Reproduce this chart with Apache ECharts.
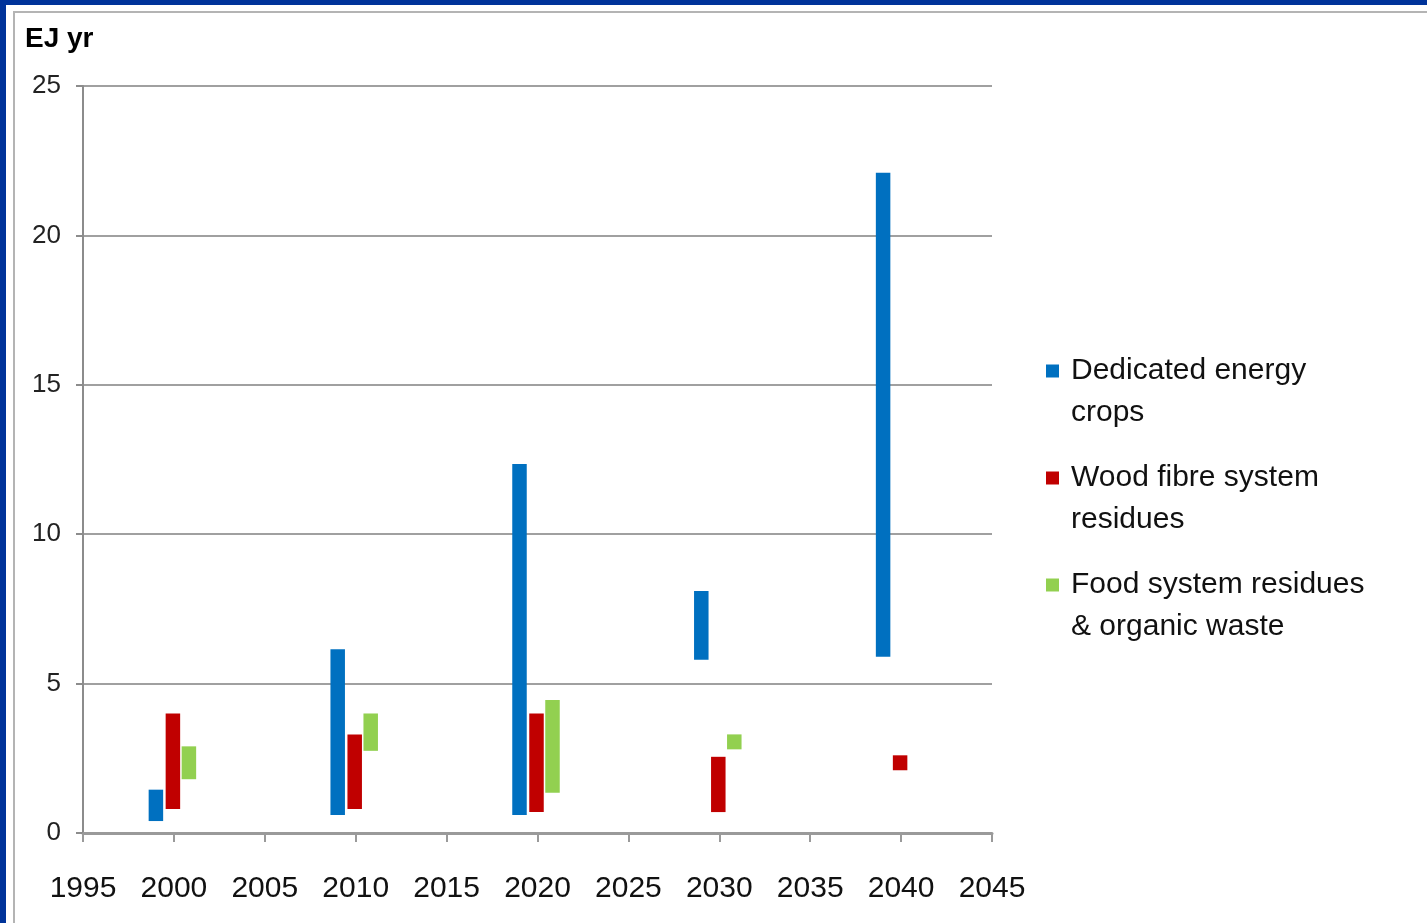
<!DOCTYPE html>
<html>
<head>
<meta charset="utf-8">
<script src="https://cdn.jsdelivr.net/npm/echarts@6/dist/echarts.min.js"></script>
<style>
  html, body { margin: 0; padding: 0; width: 1427px; height: 923px; overflow: hidden; background: #00339a; }
  #sheet { position: absolute; left: 6px; top: 5px; right: 0; bottom: 0; background: #fff; }
  #edge { position: absolute; left: 13px; top: 11px; right: -4px; bottom: -4px; border-left: 2px solid #b4b4b4; border-top: 2px solid #b4b4b4; }
  #chart { position: absolute; left: 0; top: 0; width: 1427px; height: 923px; }
</style>
</head>
<body>
<div id="sheet"></div>
<div id="edge"></div>
<div id="chart"></div>
<script>
// Bioenergy supply ranges (EJ per year), low and high estimate per source
const years = [2000, 2010, 2020, 2030, 2040];
const seriesNames = [
  'Dedicated energy\ncrops',
  'Wood fibre system\nresidues',
  'Food system residues\n& organic waste'
];
const cropsLow  = [0.4, 0.6, 0.6, 5.8, 5.9];
const cropsHigh = [1.45, 6.15, 12.35, 8.1, 22.1];
const woodLow   = [0.8, 0.8, 0.7, 0.7, 2.1];
const woodHigh  = [4.0, 3.3, 4.0, 2.55, 2.6];
const foodLow   = [1.8, 2.75, 1.35, 2.8, null];
const foodHigh  = [2.9, 4.0, 4.45, 3.3, null];
const yTicks = [0, 5, 10, 15, 20, 25];
const xTicks = [1995, 2000, 2005, 2010, 2015, 2020, 2025, 2030, 2035, 2040, 2045];

const colors = ['#0070c0', '#c00000', '#92d050'];
const offsets = [-18, -1, 15];   // horizontal shift of each source's bar within a year group (px)
const barW = 14.5;

function rangeData(lo, hi) {
  const out = [];
  years.forEach((y, i) => {
    if (lo[i] != null && hi[i] != null) out.push([y, lo[i], hi[i]]);
  });
  return out;
}

function rangeSeries(idx, lo, hi) {
  return {
    type: 'custom',
    name: seriesNames[idx],
    itemStyle: { color: colors[idx] },
    encode: { x: 0, y: [1, 2] },
    data: rangeData(lo, hi),
    renderItem: function (params, api) {
      const x = api.value(0);
      const top = api.coord([x, api.value(2)]);
      const bot = api.coord([x, api.value(1)]);
      return {
        type: 'rect',
        shape: { x: top[0] + offsets[idx] - barW / 2, y: top[1], width: barW, height: bot[1] - top[1] },
        style: { fill: colors[idx] }
      };
    }
  };
}

const chart = echarts.init(document.getElementById('chart'), null, { renderer: 'canvas' });
chart.setOption({
  animation: false,
  backgroundColor: 'transparent',
  textStyle: { fontFamily: 'Liberation Sans, Arial, sans-serif' },
  color: colors,
  title: {
    text: 'EJ yr',
    left: 20, top: 20,
    textStyle: { fontSize: 28, fontWeight: 'bold', color: '#000', fontFamily: 'Liberation Sans, Arial, sans-serif' }
  },
  grid: { left: 83, right: 435, top: 86, bottom: 90 },
  xAxis: {
    type: 'value',
    min: xTicks[0], max: xTicks[xTicks.length - 1], interval: 5,
    axisLine: { show: true, lineStyle: { color: '#9a9a9a', width: 3 } },
    axisTick: { show: true, length: 9, lineStyle: { color: '#9a9a9a', width: 2 } },
    splitLine: { show: false },
    axisLabel: { fontSize: 30, color: '#111', margin: 41, formatter: v => String(v) }
  },
  yAxis: {
    type: 'value',
    min: yTicks[0], max: yTicks[yTicks.length - 1], interval: 5,
    axisLine: { show: true, lineStyle: { color: '#8c8c8c', width: 2 } },
    axisTick: { show: true, length: 7, lineStyle: { color: '#8c8c8c', width: 2 } },
    splitLine: { show: true, lineStyle: { color: '#a0a0a0', width: 2 } },
    axisLabel: { fontSize: 26, color: '#222', margin: 22, padding: [4, 0, 0, 0] }
  },
  legend: {
    orient: 'vertical',
    left: 1046, top: 308,
    padding: 0,
    itemWidth: 13, itemHeight: 13,
    itemGap: -19,
    icon: 'rect',
    selectedMode: false,
    data: seriesNames,
    // a leading empty line keeps the marker level with the first line of each name
    formatter: name => '\n' + name,
    textStyle: { fontSize: 30, lineHeight: 42, color: '#111', padding: [0, 0, 0, 7] }
  },
  series: [
    rangeSeries(0, cropsLow, cropsHigh),
    rangeSeries(1, woodLow, woodHigh),
    rangeSeries(2, foodLow, foodHigh)
  ]
});
</script>
</body>
</html>
